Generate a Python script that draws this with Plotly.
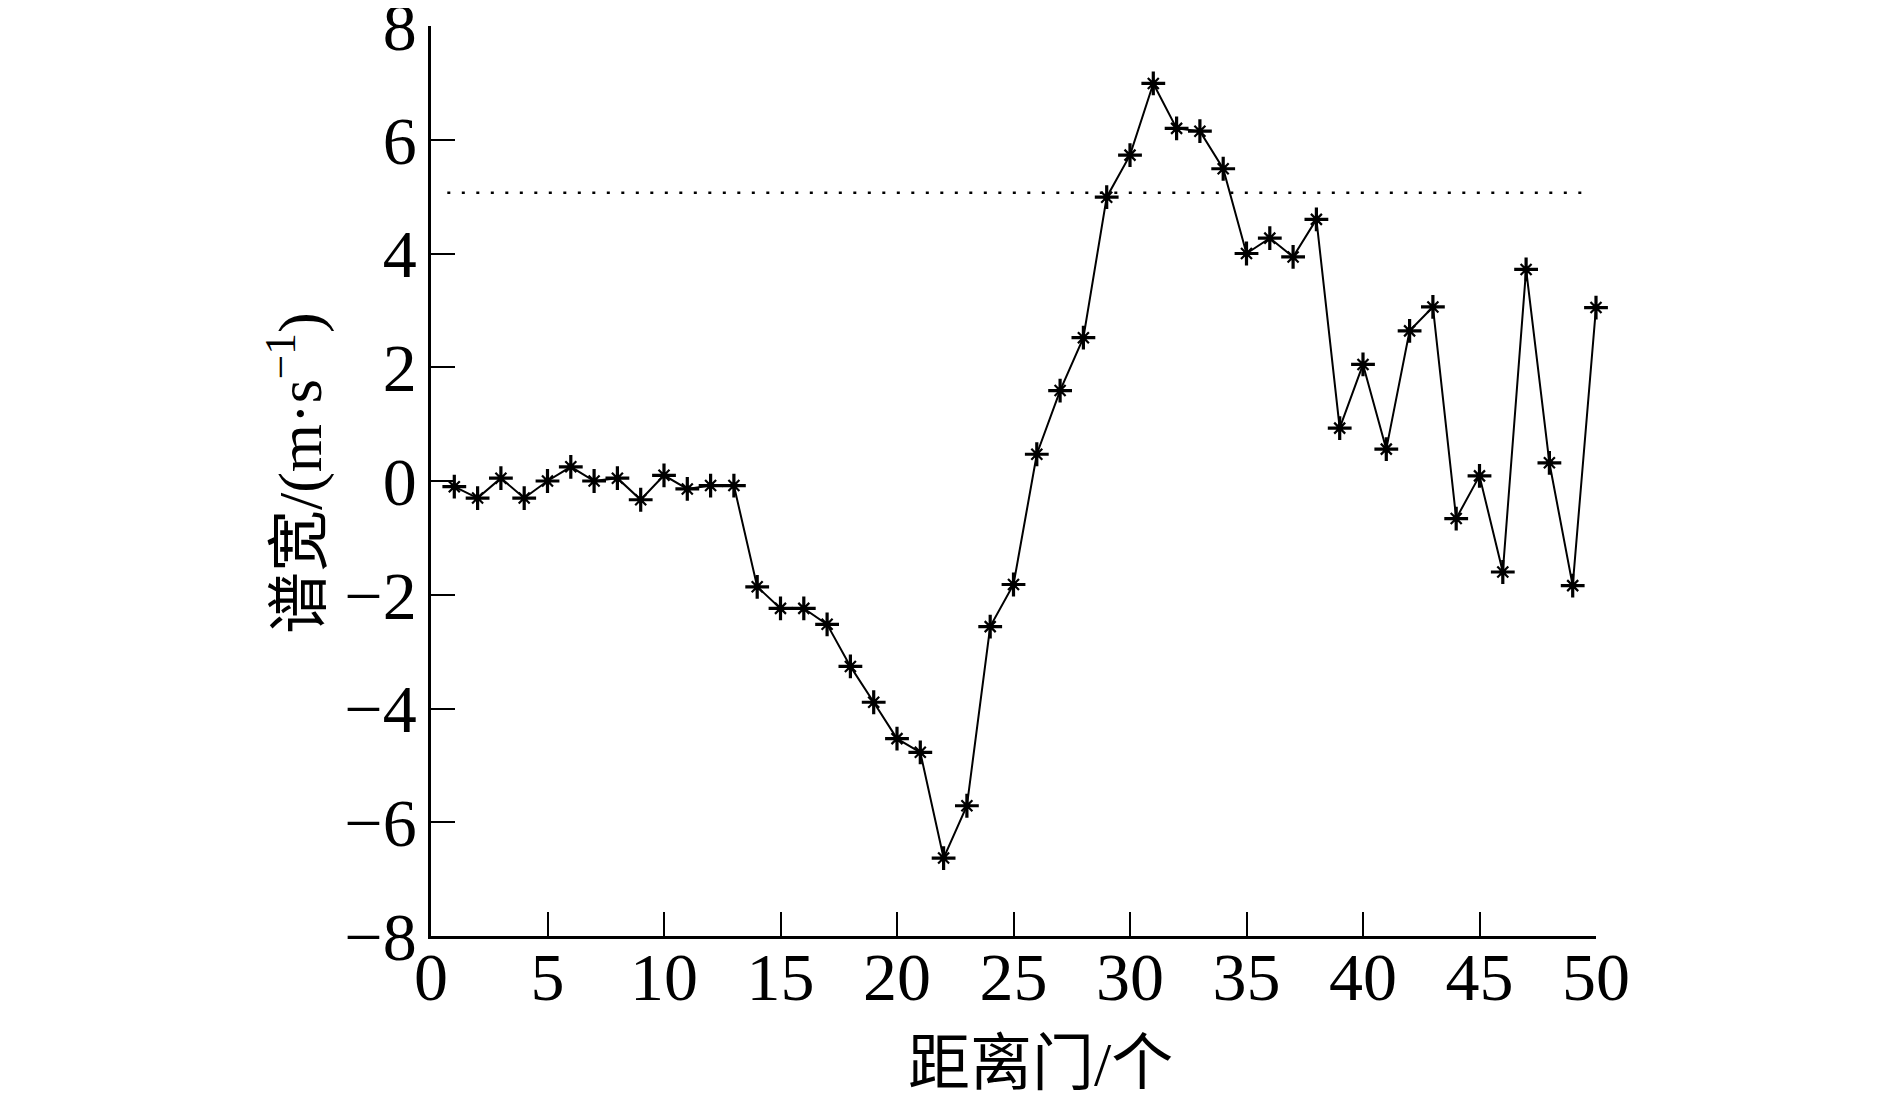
import plotly.graph_objects as go

# ---- data ----
gates = list(range(1, 51))
spectrum_width = [-0.1, -0.3, 0.05, -0.3, 0.0, 0.25, 0.0, 0.05, -0.33, 0.1,
                  -0.14, -0.08, -0.08, -1.86, -2.24, -2.24, -2.52, -3.26, -3.89, -4.53,
                  -4.77, -6.63, -5.71, -2.56, -1.82, 0.47, 1.59, 2.52, 4.99, 5.73,
                  6.99, 6.2, 6.15, 5.49, 4.0, 4.27, 3.94, 4.6, 0.93, 2.05,
                  0.56, 2.64, 3.06, -0.66, 0.09, -1.6, 3.72, 0.32, -1.84, 3.05]
threshold_x = [0.7, 49.5]
threshold_value = 5.07
x_ticks = [0, 5, 10, 15, 20, 25, 30, 35, 40, 45, 50]
y_ticks = [-8, -6, -4, -2, 0, 2, 4, 6, 8]
x_title = "距离门/个"
y_title = "谱宽/(m·s<sup>−1</sup>)"

# figure sits inside the page body (8px default margin)
W, H = 1881, 1092
L, R, T, B = 423, 293, 18, 164
PW, PH = W - L - R, H - T - B

fig = go.Figure()

fig.add_trace(go.Scatter(
    x=threshold_x, y=[threshold_value] * len(threshold_x),
    mode="lines", line=dict(color="black", width=2.5, dash="3px,11.5px"),
    hoverinfo="skip", showlegend=False, cliponaxis=False))

fig.add_trace(go.Scatter(
    x=gates, y=spectrum_width, mode="lines+markers",
    line=dict(color="black", width=2),
    marker=dict(symbol="cross-thin-open", size=17, color="black",
                line=dict(color="black", width=3.2)),
    showlegend=False, cliponaxis=False))

fig.add_trace(go.Scatter(
    x=gates, y=spectrum_width, mode="markers",
    marker=dict(symbol="x-thin-open", size=11, color="black",
                line=dict(color="black", width=2.2)),
    hoverinfo="skip", showlegend=False, cliponaxis=False))

fig.add_trace(go.Scatter(
    x=gates, y=spectrum_width, mode="markers",
    marker=dict(symbol="circle", size=7, color="black", line=dict(width=0)),
    hoverinfo="skip", showlegend=False, cliponaxis=False))

tickfont = dict(family="Liberation Serif, Times New Roman, serif", size=68, color="black")

fig.update_xaxes(
    range=[0, 50], tickvals=x_ticks, ticktext=[str(v) for v in x_ticks],
    showline=True, linecolor="black", linewidth=2.5,
    ticks="inside", ticklen=24, tickwidth=2, tickcolor="black",
    showgrid=False, zeroline=False, mirror=False,
    tickfont=tickfont, ticklabelstandoff=-20, ticklabeloverflow="allow")

fig.update_yaxes(
    range=[-8, 8], tickvals=y_ticks, ticktext=[str(v).replace("-", "−") for v in y_ticks],
    showline=True, linecolor="black", linewidth=2.5,
    ticks="inside", ticklen=24, tickwidth=2, tickcolor="black",
    showgrid=False, zeroline=False, mirror=False,
    tickfont=tickfont, ticklabelstandoff=-2, ticklabeloverflow="allow")

titlefont = dict(family="Liberation Serif, Noto Sans CJK SC, serif", size=62, color="black")

fig.add_annotation(
    text=x_title, xref="paper", yref="paper",
    x=(1032 - L) / PW, y=(H - B - 1056) / PH,
    showarrow=False, font=titlefont, xanchor="center", yanchor="middle")

fig.add_annotation(
    text=y_title, xref="paper", yref="paper", textangle=-90,
    x=(287 - L) / PW, y=(H - B - 465) / PH,
    showarrow=False, font=titlefont, xanchor="center", yanchor="middle")

fig.update_layout(
    width=W, height=H,
    margin=dict(l=L, r=R, t=T, b=B, autoexpand=False),
    paper_bgcolor="white", plot_bgcolor="white",
    showlegend=False)

fig.write_html("out.html")
